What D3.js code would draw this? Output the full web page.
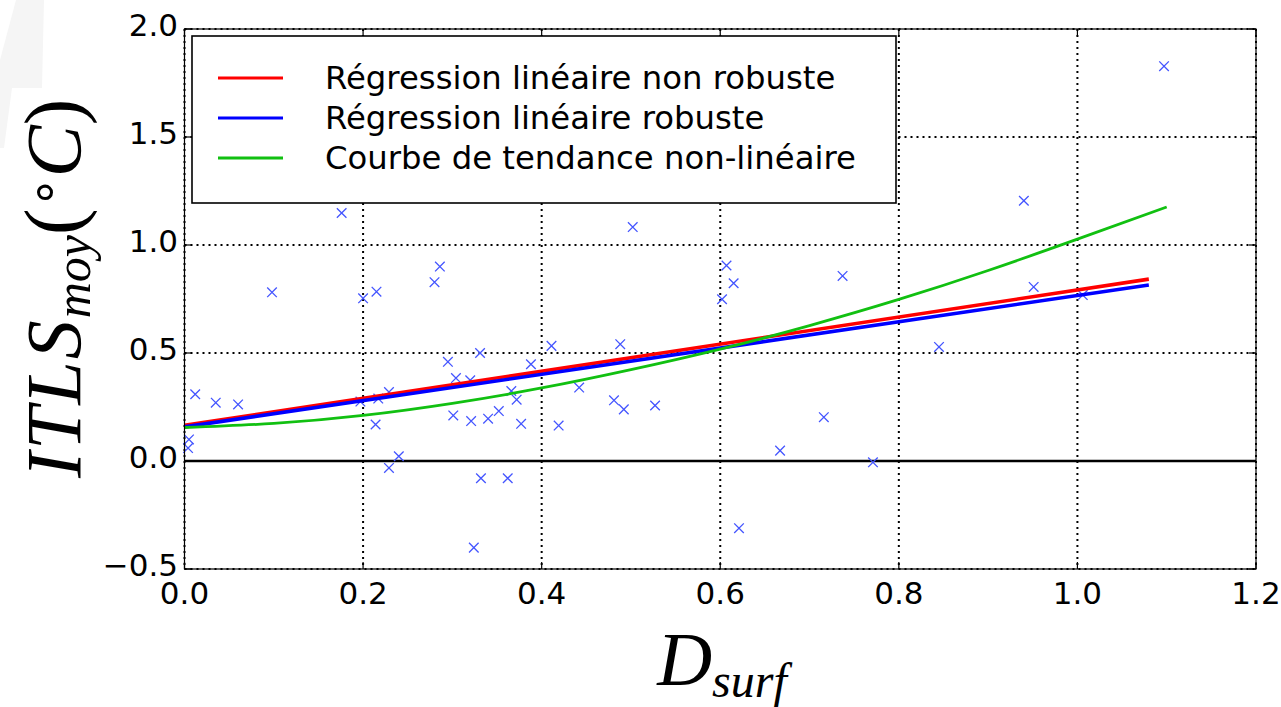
<!DOCTYPE html>
<html><head><meta charset="utf-8">
<script src="https://cdn.jsdelivr.net/npm/d3@7"></script>
<style>html,body{margin:0;padding:0;background:#fff;}svg{display:block;}</style>
</head><body>
<svg id="chart" width="1281" height="707"></svg>
<script>
// ---- data ----
const pointsX = [1.097,0.940,0.951,1.006,0.845,0.737,0.771,0.716,0.502,0.607,0.615,0.602,0.667,0.621,0.488,0.481,0.492,0.527,0.442,0.419,0.411,0.388,0.331,0.295,0.304,0.320,0.366,0.372,0.301,0.321,0.340,0.352,0.377,0.332,0.362,0.324,0.286,0.280,0.200,0.215,0.229,0.217,0.197,0.214,0.229,0.240,0.098,0.012,0.035,0.060,0.005,0.004,0.176];
const pointsY = [1.828,1.205,0.806,0.768,0.528,0.857,-0.006,0.203,1.083,0.905,0.823,0.749,0.048,-0.311,0.541,0.281,0.239,0.257,0.340,0.164,0.533,0.448,0.500,0.459,0.384,0.374,0.324,0.284,0.211,0.185,0.196,0.231,0.172,-0.080,-0.080,-0.401,0.900,0.828,0.753,0.784,0.319,0.289,0.275,0.169,-0.032,0.022,0.781,0.309,0.270,0.262,0.10,0.06,1.148];
const linX = [0, 1.08];
const redY = [0.165, 0.842];
const blueY = [0.158, 0.815];
const greenX = [0,0.1,0.2,0.3,0.4,0.5,0.6,0.7,0.8,0.9,1.0,1.1];
const greenY = [0.155,0.174,0.211,0.267,0.338,0.423,0.518,0.627,0.748,0.882,1.027,1.176];
const xTicks = [0,0.2,0.4,0.6,0.8,1.0,1.2];
const yTicks = [-0.5,0,0.5,1.0,1.5,2.0];
const legendLabels = ["Régression linéaire non robuste","Régression linéaire robuste","Courbe de tendance non-linéaire"];
const seriesColors = ["#ff0000","#0000ff","#11c011"];

// ---- layout ----
const svg = d3.select("#chart");
const L = 184.5, R = 1256, T = 29, B = 569;
const x = d3.scaleLinear().domain([0,1.2]).range([L,R]);
const y = d3.scaleLinear().domain([-0.5,2.0]).range([B,T]);

// faint watermark shape top-left
svg.append("path").attr("d","M16,0 L44,0 L42,88 L12,88 L4,148 L0,148 L0,60 Z").attr("fill","#f5f5f5");

const g = svg.append("g");
// grid
g.selectAll("line.vg").data(xTicks).join("line")
  .attr("x1",d=>x(d)).attr("x2",d=>x(d)).attr("y1",T).attr("y2",B)
  .attr("stroke","#000").attr("stroke-width",2).attr("stroke-dasharray","2,4");
g.selectAll("line.hg").data(yTicks).join("line")
  .attr("x1",L).attr("x2",R).attr("y1",d=>y(d)).attr("y2",d=>y(d))
  .attr("stroke","#000").attr("stroke-width",2).attr("stroke-dasharray","2,4");

// zero line
g.append("line").attr("x1",L).attr("x2",R).attr("y1",y(0)).attr("y2",y(0))
  .attr("stroke","#000").attr("stroke-width",2.6);

// scatter x markers
const ms = 4.8;
const pts = pointsX.map((v,i)=>[v,pointsY[i]]);
g.selectAll("path.pt").data(pts).join("path")
  .attr("d",d=>{const cx=x(d[0]), cy=y(d[1]);return `M${cx-ms},${cy-ms}L${cx+ms},${cy+ms}M${cx-ms},${cy+ms}L${cx+ms},${cy-ms}`;})
  .attr("stroke","#4455ff").attr("stroke-width",1.3).attr("fill","none");

// lines
const line = d3.line().x(d=>x(d[0])).y(d=>y(d[1]));
g.append("path").datum(linX.map((v,i)=>[v,redY[i]])).attr("d",line)
  .attr("stroke",seriesColors[0]).attr("stroke-width",3.6).attr("fill","none");
g.append("path").datum(linX.map((v,i)=>[v,blueY[i]])).attr("d",line)
  .attr("stroke",seriesColors[1]).attr("stroke-width",3.6).attr("fill","none");
const curveLine = d3.line().x(d=>x(d[0])).y(d=>y(d[1])).curve(d3.curveNatural);
g.append("path").datum(greenX.map((v,i)=>[v,greenY[i]])).attr("d",curveLine)
  .attr("stroke",seriesColors[2]).attr("stroke-width",2.8).attr("fill","none");

// frame
g.append("rect").attr("x",L).attr("y",T).attr("width",R-L).attr("height",B-T)
  .attr("fill","none").attr("stroke","#000").attr("stroke-width",1.2);

// ticks (inward on all sides)
const tl = 7;
g.selectAll("line.xtb").data(xTicks).join("line").attr("x1",d=>x(d)).attr("x2",d=>x(d)).attr("y1",B).attr("y2",B-tl).attr("stroke","#000").attr("stroke-width",1.2);
g.selectAll("line.xtt").data(xTicks).join("line").attr("x1",d=>x(d)).attr("x2",d=>x(d)).attr("y1",T).attr("y2",T+tl).attr("stroke","#000").attr("stroke-width",1.2);
g.selectAll("line.ytl").data(yTicks).join("line").attr("y1",d=>y(d)).attr("y2",d=>y(d)).attr("x1",L).attr("x2",L+tl).attr("stroke","#000").attr("stroke-width",1.2);
g.selectAll("line.ytr").data(yTicks).join("line").attr("y1",d=>y(d)).attr("y2",d=>y(d)).attr("x1",R).attr("x2",R-tl).attr("stroke","#000").attr("stroke-width",1.2);

// tick labels
const fmt = d => (d<0?"\u2212":"") + Math.abs(d).toFixed(1);
svg.selectAll("text.xl").data(xTicks).join("text")
  .attr("x",d=>x(d)).attr("y",604).attr("text-anchor","middle")
  .attr("font-family","DejaVu Sans").attr("font-size",31).attr("fill","#000").text(fmt);
svg.selectAll("text.yl").data(yTicks).join("text")
  .attr("x",178).attr("y",d=>y(d)+7).attr("text-anchor","end")
  .attr("font-family","DejaVu Sans").attr("font-size",31).attr("fill","#000").text(fmt);

// legend
const lg = svg.append("g");
lg.append("rect").attr("x",192).attr("y",36).attr("width",704).attr("height",167)
  .attr("fill","#fff").attr("stroke","#000").attr("stroke-width",1.6);
const rowsY = [78,118,158];
legendLabels.forEach((lab,i)=>{
  lg.append("line").attr("x1",218).attr("x2",283).attr("y1",rowsY[i]).attr("y2",rowsY[i])
    .attr("stroke",seriesColors[i]).attr("stroke-width",3.2);
  lg.append("text").attr("x",325).attr("y",rowsY[i]+11).attr("font-family","DejaVu Sans")
    .attr("font-size",32.3).attr("fill","#000").text(lab);
});

// y axis label
const yl = svg.append("text").attr("transform","translate(80,478) rotate(-90)")
  .attr("font-family","Liberation Serif").attr("fill","#000");
yl.append("tspan").attr("font-style","italic").attr("font-size",78).attr("letter-spacing",2).text("ITLS");
yl.append("tspan").attr("font-style","italic").attr("font-size",50).attr("dy",10).text("moy");
yl.append("tspan").attr("font-size",80).attr("font-weight",300).attr("dy",-10).text("(");
yl.append("tspan").attr("font-size",50).attr("dy",-20).text("\u2218");
yl.append("tspan").attr("font-style","italic").attr("font-size",78).attr("dy",20).text("C");
yl.append("tspan").attr("font-size",80).attr("font-weight",300).text(")");

// x axis label
const xl = svg.append("text").attr("x",722).attr("y",685).attr("text-anchor","middle")
  .attr("font-family","Liberation Serif").attr("fill","#000");
xl.append("tspan").attr("font-style","italic").attr("font-size",76).text("D");
xl.append("tspan").attr("font-style","italic").attr("font-size",48).attr("dy",12).text("surf");
</script>
</body></html>
